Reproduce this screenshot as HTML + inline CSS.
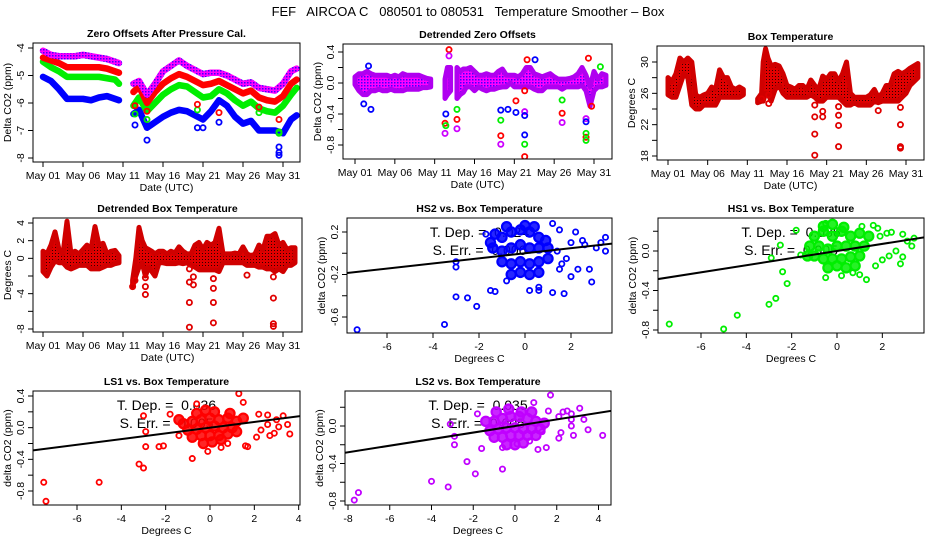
<!DOCTYPE html>
<html><head><meta charset="utf-8"><style>
html,body{margin:0;padding:0;background:#fff;}
svg{display:block;font-family:"Liberation Sans",Arial,sans-serif;}
</style></head><body>
<svg id="chart" width="936" height="540" viewBox="0 0 936 540" xmlns="http://www.w3.org/2000/svg">
<defs>
<pattern id="patRed" width="3" height="3" patternUnits="userSpaceOnUse"><rect width="3" height="3" fill="#e00000"/><rect x="1" y="1" width="1" height="1" fill="#300000"/></pattern>
<pattern id="patPurple" width="3" height="3" patternUnits="userSpaceOnUse"><rect width="3" height="3" fill="#ff00ff"/><rect x="1" y="1" width="1.5" height="1.5" fill="#4000ff"/></pattern>
</defs>
<text x="468" y="16" text-anchor="middle" font-size="13" fill="#000" style="white-space:pre">FEF   AIRCOA C   080501 to 080531   Temperature Smoother – Box</text>
</svg>
<script>
// ---------- time axis ----------
const dayTicks=[0,5,10,15,20,25,30];
const dayTickLabels=['May 01','May 06','May 11','May 16','May 21','May 26','May 31'];

// ---------- Panel 1: zero offsets ----------
const p1Days=[0,1,2,3,4,5,6,7,8,9,9.5,null,11.3,12,13,14,15,16,17,18,19,20,21,22,23,24,25,26,27,28,29,30,31,31.7];
const p1HS2=[-5.05,-5.2,-5.5,-5.85,-5.85,-5.85,-5.9,-5.8,-5.75,-5.85,-5.9,null,-6.4,-6.25,-6.9,-6.7,-6.5,-6.35,-6.25,-6.3,-6.45,-6.6,-6.3,-5.9,-6.1,-6.5,-6.75,-6.65,-7.0,-7.0,-7.0,-7.1,-6.6,-6.45];
const p1HS1=[-4.5,-4.7,-4.85,-5.05,-5.05,-5.05,-5.05,-5.05,-5.1,-5.15,-5.3,null,-6.1,-5.8,-6.3,-6.0,-5.7,-5.5,-5.35,-5.4,-5.6,-5.8,-5.75,-5.5,-5.65,-5.9,-6.1,-5.95,-6.2,-6.3,-6.35,-6.1,-5.7,-5.45];
const p1LS1=[-4.35,-4.45,-4.55,-4.7,-4.7,-4.7,-4.7,-4.7,-4.75,-4.85,-4.9,null,-5.6,-5.4,-6.0,-5.6,-5.3,-5.1,-4.95,-5.05,-5.2,-5.35,-5.3,-5.2,-5.35,-5.5,-5.65,-5.55,-5.8,-5.9,-5.95,-5.75,-5.3,-5.15];
const p1LS2=[-4.1,-4.25,-4.3,-4.3,-4.3,-4.25,-4.3,-4.35,-4.4,-4.5,-4.55,null,-5.3,-5.2,-5.7,-5.3,-4.85,-4.65,-4.45,-4.65,-4.8,-4.95,-4.9,-4.9,-5.0,-5.15,-5.3,-5.25,-5.45,-5.5,-5.55,-5.3,-4.85,-4.75];
const p1OutDays=[11.5,13,19.3,29.5,29.5,29.5,22,20,11.5,13,19.3,29.5,29.5,27,11.5,13,19.3,29.5,22,27];
const p1OutVals=[-6.8,-7.35,-6.9,-7.6,-7.9,-7.8,-6.7,-6.9,-6.4,-6.6,-6.25,-7.05,-7.1,-6.35,-6.1,-6.3,-6.05,-6.6,-6.35,-6.15];
const p1OutSeries=['b','b','b','b','b','b','b','b','g','g','g','g','g','g','r','r','r','r','r','r'];

// ---------- Panel 2: detrended zero offsets (band) ----------
const p2Days=[0,0.5,1,1.5,2,2.5,3,3.5,4,4.5,5,5.5,6,6.5,7,7.5,8,8.5,9,9.5,null,11.3,11.6,12,null,12.8,13.2,13.6,14,14.5,15,15.5,16,16.5,17,17.5,18,18.5,19,19.5,20,20.5,21,21.5,22,22.5,23,23.5,24,24.5,25,25.5,26,26.5,27,27.5,28,28.5,29,29.5,30,30.5,31,31.5];
const p2Min=[-0.02,-0.1,-0.15,-0.15,-0.1,-0.1,-0.08,-0.1,-0.1,-0.08,-0.1,-0.1,-0.1,-0.08,-0.08,-0.08,-0.08,-0.06,-0.06,-0.05,null,-0.2,-0.15,-0.1,null,-0.2,-0.15,-0.12,-0.05,-0.05,-0.1,-0.05,-0.08,-0.1,-0.08,-0.08,-0.06,-0.05,-0.05,0,-0.05,-0.05,-0.05,-0.05,-0.05,-0.08,-0.1,-0.1,-0.05,-0.05,-0.05,-0.05,-0.08,-0.05,-0.05,-0.05,-0.05,-0.03,-0.1,-0.3,-0.1,-0.05,-0.05,-0.03];
const p2Max=[0.08,0.12,0.12,0.15,0.12,0.1,0.1,0.1,0.1,0.08,0.1,0.08,0.12,0.1,0.1,0.1,0.1,0.08,0.06,0.05,null,0.05,0.2,0.2,null,0.2,0.15,0.18,0.18,0.2,0.15,0.1,0.1,0.12,0.1,0.1,0.15,0.18,0.1,0.1,0.1,0.08,0.12,0.2,0.2,0.12,0.1,0.08,0.1,0.12,0.08,0.05,0.05,0.05,0.06,0.08,0.12,0.2,0.1,-0.05,0.15,0.05,0.12,0.1];
const p2OutDays=[1.1,2,1.7,11.3,11.3,11.4,11.4,11.8,11.8,12.8,12.8,12.8,18.3,18.3,18.3,18.3,19.2,20.2,20.2,21.3,21.3,21.3,21.3,21.3,21.3,21.6,22.6,26,26,26,29,29,29,29,29,29.3,30.8,29.7];
const p2OutVals=[-0.27,-0.34,0.22,-0.52,-0.65,-0.55,-0.4,0.43,0.35,-0.47,-0.59,-0.34,-0.68,-0.79,-0.48,-0.35,-0.34,-0.23,-0.38,-0.95,-0.79,-0.67,-0.37,-0.42,-0.1,0.3,0.3,-0.39,-0.51,-0.22,-0.7,-0.65,-0.74,-0.46,-0.5,0.32,0.21,-0.3];
const p2OutSeries=['b','b','b','r','m','g','b','r','m','r','m','g','r','m','g','b','b','r','b','r','g','b','m','b','r','r','b','r','m','g','r','g','g','m','b','r','g','r'];

// ---------- Panel 3: box temperature ----------
const p3Days=[0,0.5,1,1.5,2,2.5,3,3.5,4,4.5,5,5.5,6,6.5,7,7.5,8,8.5,9,9.5,null,11.3,11.8,12,12.3,12.6,13,13.5,14,14.5,15,15.5,16,16.5,17,17.5,18,18.5,19,19.5,20,20.5,21,21.5,22,22.5,23,23.5,24,24.5,25,25.5,26,26.5,27,27.5,28,28.5,29,29.5,30,30.5,31,31.5];
const p3Min=[25.8,25.5,25.5,27,28.5,28,24.5,24,24,24.5,24.5,24.5,24.5,25.5,25.5,25.5,25.5,25.5,25.5,25.8,null,24.8,25,25,26,26,25,26.5,27,26,25.5,25.5,25.5,25.5,25.5,25.5,25.8,25.5,25,25,25.5,25.5,25.5,25.5,25,24.5,24.5,24.8,24.5,24.5,24.5,24.5,25,24.8,25,25,25,25,25,25.5,26,27,27.5,28];
const p3Max=[28,27.5,28.5,30.5,30,30.5,30,25.8,25.5,25.8,26,26.8,26.5,29,28,28,26.8,26.5,26.8,26.5,null,25.3,26,30,31.7,30.5,29.5,29.7,29.5,28.5,27,26.8,26.5,27,27,26.5,27.7,27,26.5,28.2,27.8,28.5,28.5,27.5,28.5,30,26,25.5,25.5,25.5,25.5,25.8,26.5,25.5,26,27,27,28.5,28.8,28.5,28.8,29.2,29.5,29.8];
const p3OutDays=[18.5,18.5,18.5,18.5,19.5,19.5,21.5,21.5,21.5,21.5,26.5,29.3,29.3,29.3,29.3,12.7,12.7,11.8];
const p3OutVals=[24.5,23,20.8,18.1,23.7,23,24.3,23.2,21.9,19.2,23.8,24.2,22,19.2,19,24.7,25.8,25.3];

// ---------- Panel 4: detrended box temperature ----------
const p4Days=[0,0.5,1,1.5,2,2.5,3,3.5,4,4.5,5,5.5,6,6.5,7,7.5,8,8.5,9,9.5,null,11.2,11.6,12,12.4,12.8,13.2,13.6,14,14.5,15,15.5,16,16.5,17,17.5,18,18.5,19,19.5,20,20.5,21,21.5,22,22.5,23,23.5,24,24.5,25,25.5,26,26.5,27,27.5,28,28.5,29,29.5,30,30.5,31,31.5];
const p4Min=[-1.5,-2,-1,-0.3,-0.5,-0.5,-1,-1.2,-1,-0.8,-0.8,-0.8,-1.2,-1.2,-1.2,-1,-0.8,-0.8,-0.6,-0.5,null,-3.2,-2,-1,-0.5,-2,-1,-1.5,-2,-0.5,-0.5,-0.6,-0.6,-0.6,-0.5,-0.6,-0.5,-0.8,-1,-1.3,-1.3,-1.3,-1.3,-1.3,-1.5,-0.5,-0.5,-0.5,-0.5,-0.5,-0.5,-0.8,-0.8,-0.8,-1,-1,-1.2,-1.2,-1.5,-1.2,-1.5,-0.8,-0.8,-0.5];
const p4Max=[0.8,0.5,1.5,3,1,0.5,4.2,0.5,0.8,0.5,1,1.5,1,3.6,1.5,1.7,0.5,0.8,0.9,0.3,null,-2.5,0,3.5,2,1.2,1,0.8,0.5,0.8,0.8,0.5,0.8,0.6,1.3,0.8,0.5,0.5,1.5,1.8,1,1.8,1.5,1.8,3.4,0.5,0.5,0.5,0.6,0.5,1.3,0.5,0.3,0.5,1.5,1,2.5,2.5,2.8,1.5,1.8,1,1.2,1.2];
const p4OutDays=[11.2,11.5,12.8,12.8,12.8,18.3,18.3,18.3,18.3,18.8,18.8,21.3,21.3,21.3,21.3,25.5,28.8,28.8,28.8,28.8];
const p4OutVals=[-3.2,-2.5,-3.2,-4.1,-2.2,-1.2,-2.7,-5,-7.8,-2.1,-3,-2.3,-3.4,-5,-7.3,-1.9,-2.1,-4.5,-7.4,-7.7];

// ---------- Scatter panels ----------
const hs2Slope=0.024, hs2Err=0.006;
const hs2CoreX=[-1.3,-1.0,-0.6,-0.2,0.2,0.6,-1.4,-1.0,-0.6,-0.2,0.2,0.6,1.0,-1.0,-0.6,-0.2,0.2,0.6,1.0,-0.6,-0.2,0.2,0.6,-1.5,0.0,0.4,-0.8,0.9];
const hs2CoreY=[0.18,0.15,0.2,0.22,0.2,0.15,0.05,0.02,0.05,0.08,0.05,0.05,0.05,-0.08,-0.1,-0.08,-0.1,-0.08,-0.05,-0.2,-0.18,-0.2,-0.18,0.1,0.26,0.25,0.25,0.12];
const hs2X=[-7.3,-3.5,-3.0,-3.0,-3.0,-2.5,-2.1,-1.5,-1.3,-0.8,0.2,0.6,0.6,1.2,1.5,1.2,1.7,2.2,2.0,2.5,2.3,2.8,2.9,3.1,3.3,3.5,3.5,-1.7,2.6,1.8,2.0,1.5,1.4,1.6];
const hs2Y=[-0.72,-0.67,-0.08,-0.13,-0.41,-0.42,-0.5,-0.35,-0.36,-0.26,-0.35,-0.32,-0.35,0.28,0.22,-0.37,-0.38,0.2,0.1,0.12,-0.15,-0.15,-0.27,0.05,0.1,0.02,0.15,0.18,0.08,-0.05,-0.22,-0.15,0.02,-0.1];

const hs1Slope=0.036, hs1Err=0.005;
const hs1CoreX=[-1.0,-0.6,-0.2,0.2,0.6,1.0,-1.2,-0.8,-0.4,0.0,0.4,0.8,1.2,-1.0,-0.6,-0.2,0.2,0.6,1.0,-0.4,0.0,0.4,0.8,-0.6,-0.2,0.3,1.4,-1.3];
const hs1CoreY=[0.15,0.2,0.15,0.2,0.15,0.18,0.05,0.05,0.02,0.05,0.05,0.05,0.05,-0.05,-0.08,-0.08,-0.08,-0.06,-0.05,-0.17,-0.15,-0.17,-0.15,0.25,0.27,0.24,0.15,-0.05];
const hs1X=[-7.4,-5.0,-4.4,-3.0,-2.7,-2.9,-2.4,-2.2,-1.6,-2.5,-1.8,-0.5,-0.5,0.2,1.3,1.0,0.7,1.6,1.8,1.9,2.4,2.2,2.9,3.1,3.3,3.4,2.6,2.3,2.9,2.8,1.7,2.0,1.1];
const hs1Y=[-0.74,-0.79,-0.65,-0.54,-0.48,-0.07,-0.21,-0.33,-0.04,0.06,0.21,0.28,-0.27,-0.25,-0.29,-0.24,-0.22,0.26,0.23,0.15,0.19,0.18,0.17,0.1,0.05,0.13,0.0,-0.05,-0.06,-0.13,-0.15,-0.09,0.25];

const ls1Slope=0.036, ls1Err=0.005;
const ls1CoreX=[-1.2,-0.8,-0.4,0.0,0.4,0.8,1.2,-1.0,-0.6,-0.2,0.2,0.6,1.0,-0.8,-0.4,0.0,0.4,0.8,1.2,-0.3,0.1,0.5,-1.4,0.9,-0.6,0.2,1.5,-0.2];
const ls1CoreY=[0.05,0.08,0.1,0.12,0.1,0.12,0.08,-0.03,-0.02,0.0,0.02,0.0,0.0,-0.12,-0.1,-0.1,-0.1,-0.08,-0.05,-0.2,-0.18,-0.15,0.1,0.18,0.18,0.2,0.12,0.22];
const ls1X=[-7.5,-7.4,-5.0,-3.2,-3.0,-2.9,-2.9,-3.0,-2.3,-2.1,-1.8,-1.4,-0.8,-0.1,-0.6,1.3,1.5,2.2,2.6,3.3,3.5,3.6,3.1,2.9,2.7,2.1,1.6,1.7,0.5,0.8,2.3,2.6,3.0];
const ls1Y=[-0.69,-0.93,-0.69,-0.46,-0.51,-0.24,-0.05,0.15,-0.24,-0.23,0.17,-0.1,-0.39,-0.3,0.3,0.43,0.32,0.17,0.16,0.15,0.04,-0.08,0.01,-0.07,-0.1,-0.12,-0.23,-0.24,-0.25,-0.2,-0.03,0.04,0.1];

const ls2Slope=0.035, ls2Err=0.005;
const ls2CoreX=[-1.4,-1.0,-0.6,-0.2,0.2,0.6,1.0,1.4,-1.2,-0.8,-0.4,0.0,0.4,0.8,1.2,-1.0,-0.6,-0.2,0.2,0.6,1.0,-0.4,0.0,0.4,-0.9,-0.3,0.3,0.8];
const ls2CoreY=[0.05,0.05,0.08,0.1,0.1,0.08,0.05,0.03,-0.05,-0.03,-0.02,-0.02,-0.03,-0.03,-0.03,-0.12,-0.12,-0.1,-0.1,-0.1,-0.1,-0.2,-0.2,-0.18,0.15,0.18,0.15,0.15];
const ls2X=[-7.7,-7.5,-4.0,-3.2,-3.1,-2.9,-2.9,-2.3,-1.9,-1.6,-0.6,-0.6,-1.8,0.1,0.7,1.5,1.1,1.7,1.6,0.9,2.1,2.3,2.5,2.7,2.7,2.7,2.2,2.1,2.8,3.1,3.3,3.5,4.2,1.3];
const ls2Y=[-0.79,-0.71,-0.59,-0.65,0.02,-0.11,-0.2,-0.38,-0.51,-0.24,-0.23,-0.46,0.13,-0.19,-0.16,-0.23,-0.25,0.33,0.16,0.25,0.1,0.15,0.16,0.13,0.07,0.0,-0.07,-0.13,-0.1,0.19,0.07,-0.04,-0.1,-0.06];

// ================= rendering =================
const NS='http://www.w3.org/2000/svg';
const svg=document.getElementById('chart');
function mk(tag,attrs,parent){const e=document.createElementNS(NS,tag);for(const k in attrs)e.setAttribute(k,attrs[k]);(parent||svg).appendChild(e);return e;}
function lin(v1,p1,v2,p2){return v=>p1+(v-v1)*(p2-p1)/(v2-v1);}
const colors={b:'#0000ff',g:'#00ee00',r:'#ff0000',m:'#cc00ff'};

function frame(P){
  const g=mk('g',{});
  
  
  P.g=g;
  const [x0,x1,y0,y1]=P.box;
  const t=mk('text',{x:(x0+x1)/2,y:y0-6,'text-anchor':'middle','font-size':'10.5','font-weight':'bold'},g);
  t.textContent=P.title;
  
  
  const xa=mk('g',{},g);
  
  
  P.xt.forEach((v,i)=>{
    const px=P.sx(v);
    mk('line',{x1:px,x2:px,y1:y1,y2:y1+5,stroke:'#000'},xa);
    if(P.xl[i]!==''){const tl=mk('text',{x:px,y:y1+17,'text-anchor':'middle','font-size':'10.5'},xa);tl.textContent=P.xl[i];
      
      }
  });
  const xt=mk('text',{x:(x0+x1)/2,y:y1+29,'text-anchor':'middle','font-size':'10.5'},g);
  xt.textContent=P.xtitle;
  
  
  const ya=mk('g',{},g);
  
  
  P.yt.forEach((v,i)=>{
    const py=P.sy(v);
    mk('line',{x1:x0-5,x2:x0,y1:py,y2:py,stroke:'#000'},ya);
    if(P.yl[i]!==''){const tl=mk('text',{x:x0-9,y:py,'text-anchor':'middle','font-size':'10.5',transform:`rotate(-90 ${x0-9} ${py})`},ya);tl.textContent=P.yl[i];
      
      }
  });
  const yx=x0-22, yy=(y0+y1)/2;
  const ytt=mk('text',{x:yx,y:yy,'text-anchor':'middle','font-size':'10.5',transform:`rotate(-90 ${yx} ${yy})`},g);
  ytt.textContent=P.ytitle;
  
  
  const cp=mk('clipPath',{id:'clip-'+P.name},g);
  mk('rect',{x:x0,y:y0,width:x1-x0,height:y1-y0},cp);
  P.plot=mk('g',{'clip-path':`url(#clip-${P.name})`},g);
  
  
}
function boxOutline(P){const [x0,x1,y0,y1]=P.box;const r=mk('rect',{x:x0,y:y0,width:x1-x0,height:y1-y0,fill:'none',stroke:'#000','stroke-width':'1'},P.g);
  
  }

function point(P,x,y,col,r){const c=mk('circle',{cx:P.sx(x),cy:P.sy(y),r:r||2.6,fill:'none',stroke:col,'stroke-width':'1.8'},P.plot);
  
  return c;}

function segments(days,vals,vals2){const segs=[];let cur=[];days.forEach((d,i)=>{if(d===null||vals[i]===null){if(cur.length)segs.push(cur);cur=[];}else cur.push(vals2?[d,vals[i],vals2[i]]:[d,vals[i]]);});if(cur.length)segs.push(cur);return segs;}

function seriesLine(P,days,vals,col,name){
  segments(days,vals).forEach(seg=>{
    const pts=seg.map(s=>P.sx(s[0])+','+P.sy(s[1])).join(' ');
    const pl=mk('polyline',{points:pts,fill:'none',stroke:col,'stroke-width':'6.5','stroke-linejoin':'round','stroke-linecap':'round'},P.plot);
    
    
  });
}
function band(P,days,mins,maxs,fill,edge,name){
  segments(days,mins,maxs).forEach(seg=>{
    const up=seg.map(s=>P.sx(s[0])+','+P.sy(s[2]));
    const lo=seg.slice().reverse().map(s=>P.sx(s[0])+','+P.sy(s[1]));
    const pg=mk('polygon',{points:up.concat(lo).join(' '),fill:fill,stroke:edge,'stroke-width':'5','stroke-linejoin':'round'},P.plot);
    
    
  });
}

const timeTitle='Date (UTC)';
const P1={name:'zero-offsets-panel',title:'Zero Offsets After Pressure Cal.',box:[33,300,43,162],sx:lin(0,43,30,283),sy:lin(-4,48,-8,158),xt:dayTicks,xl:dayTickLabels,yt:[-4,-5,-6,-7,-8],yl:['-4','-5','-6','-7','-8'],xtitle:timeTitle,ytitle:'Delta CO2 (ppm)'};
frame(P1);
seriesLine(P1,p1Days,p1HS2,'#0000ff','series-hs2');
seriesLine(P1,p1Days,p1HS1,'#00ee00','series-hs1');
seriesLine(P1,p1Days,p1LS1,'#ff0000','series-ls1');
seriesLine(P1,p1Days,p1LS2,'url(#patPurple)','series-ls2');
p1OutDays.forEach((d,i)=>point(P1,d,p1OutVals[i],colors[p1OutSeries[i]]));
boxOutline(P1);

const P2={name:'detrended-zero-offsets-panel',title:'Detrended Zero Offsets',box:[343,612,44,159],sx:lin(0,355,30,594),sy:lin(0.4,52,-0.8,145),xt:dayTicks,xl:dayTickLabels,yt:[0.4,0.2,0,-0.2,-0.4,-0.6,-0.8],yl:['0.4','','0.0','','-0.4','','-0.8'],xtitle:timeTitle,ytitle:'Delta CO2 (ppm)'};
frame(P2);
band(P2,p2Days,p2Min,p2Max,'url(#patPurple)','#b000f0','detrended-band');
p2OutDays.forEach((d,i)=>point(P2,d,p2OutVals[i],colors[p2OutSeries[i]]));
boxOutline(P2);

const P3={name:'box-temperature-panel',title:'Box Temperature',box:[657,924,46,160],sx:lin(0,668,30,906),sy:lin(30,62,18,156),xt:dayTicks,xl:dayTickLabels,yt:[30,28,26,24,22,20,18],yl:['30','','26','','22','','18'],xtitle:timeTitle,ytitle:'Degrees C'};
frame(P3);
band(P3,p3Days,p3Min,p3Max,'url(#patRed)','#d00000','temperature-band');
p3OutDays.forEach((d,i)=>point(P3,d,p3OutVals[i],'#e00000'));
boxOutline(P3);

const P4={name:'detrended-box-temperature-panel',title:'Detrended Box Temperature',box:[33,302,218,332],sx:lin(0,43,30,283),sy:lin(4,223,-8,329),xt:dayTicks,xl:dayTickLabels,yt:[4,2,0,-2,-4,-6,-8],yl:['4','2','0','','-4','','-8'],xtitle:timeTitle,ytitle:'Degrees C'};
frame(P4);
band(P4,p4Days,p4Min,p4Max,'url(#patRed)','#d00000','detrended-temperature-band');
p4OutDays.forEach((d,i)=>point(P4,d,p4OutVals[i],'#e00000'));
boxOutline(P4);

function scatter(P,coreX,coreY,xs,ys,col,slope,err){
  frame(P);
  const [x0,x1,y0,y1]=P.box;const cx=(x0+x1)/2;
  const t1=mk('text',{x:cx,y:y0+19,'text-anchor':'middle','font-size':'14',style:'white-space:pre'},P.g);
  t1.textContent='T. Dep. =  '+slope.toFixed(3);
  
  
  const t2=mk('text',{x:cx,y:y0+37,'text-anchor':'middle','font-size':'14',style:'white-space:pre'},P.g);
  t2.textContent='S. Err. =  '+err.toFixed(3);
  
  
  P.g.appendChild(P.plot);
  coreX.forEach((x,i)=>{const c=mk('circle',{cx:P.sx(x),cy:P.sy(coreY[i]),r:4.6,fill:col,'fill-opacity':'0.85',stroke:col,'stroke-width':'2.2'},P.plot);
    
    });
  xs.forEach((x,i)=>point(P,x,ys[i],col));
  const xa=-10,xb=10;
  const ln=mk('line',{x1:P.sx(xa),y1:P.sy(slope*xa),x2:P.sx(xb),y2:P.sy(slope*xb),stroke:'#000','stroke-width':'2'},P.plot);
  
  
  boxOutline(P);
}
const P5={name:'hs2-scatter-panel',title:'HS2 vs. Box Temperature',box:[347,612,218,333],sx:lin(-6,387,0,525),sy:lin(0.2,232,-0.6,317),xt:[-6,-4,-2,0,2],xl:['-6','-4','-2','0','2'],yt:[0.2,0,-0.2,-0.4,-0.6],yl:['0.2','','-0.2','','-0.6'],xtitle:'Degrees C',ytitle:'delta CO2 (ppm)'};
scatter(P5,hs2CoreX,hs2CoreY,hs2X,hs2Y,'#0000ff',hs2Slope,hs2Err);
const P6={name:'hs1-scatter-panel',title:'HS1 vs. Box Temperature',box:[658,924,218,333],sx:lin(-6,701,0,837),sy:lin(0,251,-0.8,330),xt:[-6,-4,-2,0,2],xl:['-6','-4','-2','0','2'],yt:[0.2,0,-0.2,-0.4,-0.6,-0.8],yl:['','0.0','','-0.4','','-0.8'],xtitle:'Degrees C',ytitle:'delta CO2 (ppm)'};
scatter(P6,hs1CoreX,hs1CoreY,hs1X,hs1Y,'#00ee00',hs1Slope,hs1Err);
const P7={name:'ls1-scatter-panel',title:'LS1 vs. Box Temperature',box:[33,300,391,505],sx:lin(-6,77,0,210),sy:lin(0.4,396,-0.8,491),xt:[-6,-4,-2,0,2,4],xl:['-6','-4','-2','0','2','4'],yt:[0.4,0.2,0,-0.2,-0.4,-0.6,-0.8],yl:['0.4','','0.0','','-0.4','','-0.8'],xtitle:'Degrees C',ytitle:'delta CO2 (ppm)'};
scatter(P7,ls1CoreX,ls1CoreY,ls1X,ls1Y,'#ff0000',ls1Slope,ls1Err);
const P8={name:'ls2-scatter-panel',title:'LS2 vs. Box Temperature',box:[345,611,391,505],sx:lin(-8,348,0,515),sy:lin(0,426,-0.8,501),xt:[-8,-6,-4,-2,0,2,4],xl:['-8','-6','-4','-2','0','2','4'],yt:[0.2,0,-0.2,-0.4,-0.6,-0.8],yl:['','0.0','','-0.4','','-0.8'],xtitle:'Degrees C',ytitle:'delta CO2 (ppm)'};
scatter(P8,ls2CoreX,ls2CoreY,ls2X,ls2Y,'#c000ff',ls2Slope,ls2Err);
</script>
</body></html>
